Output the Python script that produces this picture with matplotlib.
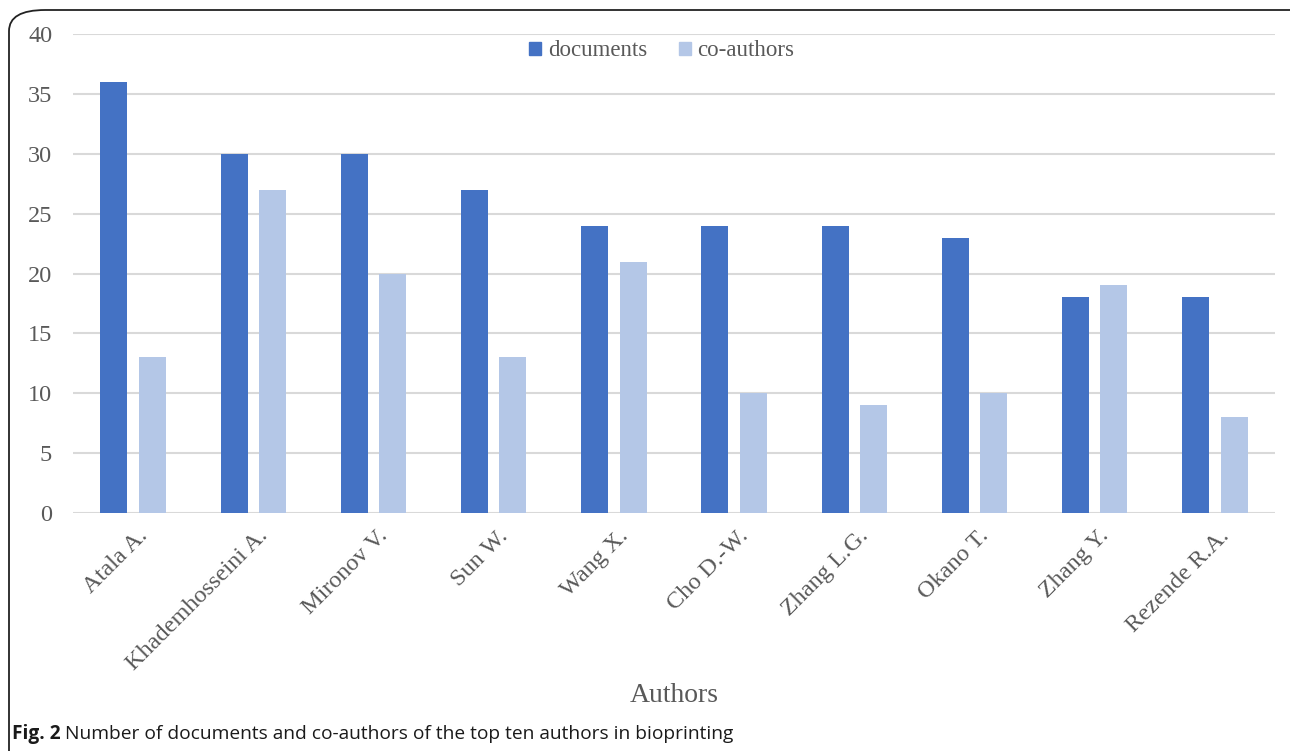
import numpy as np
import matplotlib
matplotlib.use('Agg')
import matplotlib.pyplot as plt
from matplotlib.patches import FancyBboxPatch, Patch

# chart data
authors = ['Atala A.', 'Khademhosseini A.', 'Mironov V.', 'Sun W.', 'Wang X.',
           'Cho D.-W.', 'Zhang L.G.', 'Okano T.', 'Zhang Y.', 'Rezende R.A.']
documents = [36, 30, 30, 27, 24, 24, 24, 23, 18, 18]
coauthors = [13, 27, 20, 13, 21, 10, 9, 10, 19, 8]
yticks = [0, 5, 10, 15, 20, 25, 30, 35, 40]

c_doc = '#4472C4'
c_co = '#B4C7E7'
txt = '#595959'
serif = ['Liberation Serif', 'DejaVu Serif']

fig = plt.figure(figsize=(12.9, 7.51), dpi=100)

# rounded frame around the figure panel (cut at right / bottom)
frame = FancyBboxPatch((9/1290, -0.05), 1.2, 1 - 10/751 + 0.05,
                       boxstyle='round,pad=0,rounding_size=0.028',
                       transform=fig.transFigure, fill=False,
                       edgecolor='#222222', linewidth=1.3, clip_on=False)
fig.patches.append(frame)

ax = fig.add_axes([73/1290, 1 - 513/751, (1275 - 73)/1290, (513 - 34)/751])

x = np.arange(len(authors))
w = 0.225
ax.bar(x - 0.16, documents, w, color=c_doc, zorder=3)
ax.bar(x + 0.16, coauthors, w, color=c_co, zorder=3)

ax.set_xlim(-0.5, len(authors) - 0.5)
ax.set_ylim(0, 40)
ax.set_yticks(yticks)
ax.yaxis.grid(True, color='#D9D9D9', linewidth=1.5, zorder=0)
ax.set_axisbelow(True)
for s in ax.spines.values():
    s.set_visible(False)

ax.tick_params(axis='both', length=0, colors=txt)
ax.tick_params(axis='y', pad=15)
ax.set_yticklabels([str(t) for t in yticks], family=serif, fontsize=17.5, color=txt)
ax.set_xticks(x + 0.03)
ax.set_xticklabels(authors, rotation=45, ha='right', rotation_mode='anchor',
                   family=serif, fontsize=17.5, color=txt)
ax.tick_params(axis='x', pad=9)

ax.text(0.5, -0.381, 'Authors', transform=ax.transAxes, ha='center', va='center',
        family=serif, fontsize=20, color=txt)

handles = [Patch(color=c_doc, label='documents'), Patch(color=c_co, label='co-authors')]
ax.legend(handles=handles, loc='upper center', bbox_to_anchor=(0.49, 1.03),
          ncol=2, frameon=False, handlelength=0.5, handleheight=0.5,
          handletextpad=0.3, columnspacing=1.4,
          prop={'family': serif, 'size': 16.5}, labelcolor=txt)

cap_y = 1 - 734/751
cap_font = ['Open Sans', 'DejaVu Sans']
t1 = fig.text(12/1290, cap_y, 'Fig. 2', fontsize=13.8, fontweight='bold',
              family=cap_font, va='center', color='#1a1a1a')
fig.canvas.draw()
bb = t1.get_window_extent()
fig.text((bb.x1 + 4)/1290, cap_y,
         'Number of documents and co-authors of the top ten authors in bioprinting',
         fontsize=13.8, family=cap_font, va='center', color='#1a1a1a')

fig.savefig('out.png', dpi=100)
